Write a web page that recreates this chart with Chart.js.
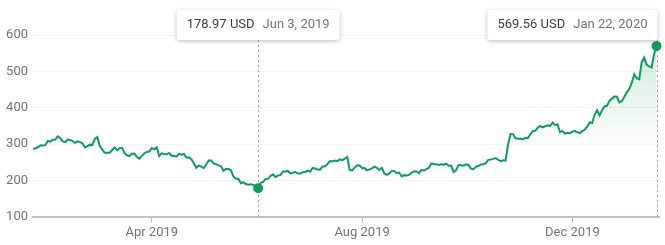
<!DOCTYPE html>
<html>
<head>
<meta charset="utf-8">
<script src="https://cdn.jsdelivr.net/npm/chart.js@4"></script>
<style>
  html, body { margin: 0; padding: 0; background: #fff; }
  #wrap { width: 665px; height: 245px; position: relative; }
</style>
</head>
<body>
<div id="wrap"><canvas id="stockChart" width="665" height="245"></canvas></div>
<script>
// closing prices, one value per trading day
const jan19 = [287.59, 288.75, 291.52, 297.04, 296.38, 297.46, 308.77, 307.02];
const feb19 = [312.21, 312.89, 321.35, 317.22, 307.51, 305.80, 312.84, 311.81, 308.17, 303.77,
               307.88, 305.62, 302.56, 291.23, 294.71, 298.77, 297.86, 314.74, 319.88];
const mar19 = [294.79, 285.36, 276.54, 276.24, 276.59, 284.14, 290.92, 283.36, 288.96, 289.96,
               275.43, 269.49, 267.47, 273.60, 274.02, 264.53, 260.42, 267.77, 274.83, 278.62, 279.86];
const apr19 = [289.18, 285.88, 291.81, 267.78, 274.96, 273.20, 272.31, 276.06, 268.42, 267.70,
               266.38, 273.36, 271.23, 273.26, 262.75, 263.90, 258.66, 247.63, 235.14, 241.47, 238.69];
const may19 = [234.01, 244.10, 255.03, 255.34, 247.06, 244.84, 241.98, 239.52, 227.01, 232.31,
               231.95, 228.33, 211.03, 205.36, 205.08, 192.73, 195.49, 190.63, 188.70, 189.86, 188.22, 185.16];
const jun19 = [178.97, 193.60, 196.59, 204.50, 204.95, 212.88, 217.10, 209.26, 213.91, 214.92,
               225.03, 224.74, 226.43, 219.62, 221.86, 223.64, 219.76, 219.27, 222.84, 223.46];
const jul19 = [227.17, 224.55, 234.90, 233.10, 230.34, 230.06, 238.92, 238.60, 245.08, 253.50,
               252.38, 254.86, 253.54, 258.18, 255.68, 260.17, 264.88, 228.82, 228.04, 235.77, 242.26, 241.61];
const aug19 = [233.85, 234.34, 228.32, 230.75, 233.42, 238.30, 235.01, 229.01, 235.00, 219.62,
               215.64, 219.94, 226.83, 225.86, 220.83, 222.15, 211.40, 215.00, 214.08, 215.59, 221.71, 225.61];
const sep19 = [225.01, 220.68, 229.58, 227.45, 231.79, 235.54, 247.10, 245.87, 245.20, 242.81,
               244.79, 243.49, 246.60, 240.62, 241.23, 223.21, 228.70, 242.56, 242.13, 240.87];
const oct19 = [244.69, 243.13, 233.03, 231.43, 237.72, 240.05, 244.53, 244.74, 247.89, 256.96,
               257.89, 259.75, 261.97, 256.95, 253.50, 255.58, 254.68, 299.68, 328.13, 327.71,
               316.22, 315.01, 314.92];
const nov19 = [313.31, 317.47, 317.22, 326.58, 335.54, 337.14, 345.09, 349.93, 346.11, 349.35,
               352.17, 349.99, 359.52, 352.22, 354.83, 333.04, 336.34, 328.92, 331.29, 329.94];
const dec19 = [334.87, 336.20, 333.03, 330.37, 335.89, 339.53, 348.84, 359.68, 358.39, 381.50,
               393.15, 378.99, 393.44, 404.04, 405.59, 419.22, 425.25, 430.94, 430.38, 414.70, 418.33];
const jan20 = [430.26, 443.01, 451.54, 469.06, 492.14, 481.34, 478.15, 524.86, 537.92, 518.50,
               513.49, 510.50, 547.20, 569.56];

const startDate = '2019-01-22';
const holidays = ['2019-02-18', '2019-04-19', '2019-05-27', '2019-07-04', '2019-09-02',
                  '2019-11-28', '2019-12-25', '2020-01-01', '2020-01-20'];
const monthTicks = ['2019-04-01', '2019-08-01', '2019-12-02'];
const tickLabels = ['Apr 2019', 'Aug 2019', 'Dec 2019'];
const yTicks = [100, 200, 300, 400, 500, 600];
const markedDays = ['2019-06-03', '2020-01-22'];
const currency = 'USD';

const closes = [].concat(jan19, feb19, mar19, apr19, may19, jun19, jul19, aug19,
                         sep19, oct19, nov19, dec19, jan20);

// build the list of trading days (skip weekends and market holidays)
const pad = n => String(n).padStart(2, '0');
const tradingDays = [];
let d = new Date(startDate + 'T12:00:00Z');
while (tradingDays.length < closes.length) {
    const iso = d.getUTCFullYear() + '-' + pad(d.getUTCMonth() + 1) + '-' + pad(d.getUTCDate());
    const wd = d.getUTCDay();
    if (wd !== 0 && wd !== 6 && !holidays.includes(iso)) tradingDays.push(iso);
    d.setUTCDate(d.getUTCDate() + 1);
}

const monthNames = ['Jan','Feb','Mar','Apr','May','Jun','Jul','Aug','Sep','Oct','Nov','Dec'];
const fmtDay = iso => {
    const [y, m, dd] = iso.split('-').map(Number);
    return monthNames[m - 1] + ' ' + dd + ', ' + y;
};

const points = closes.map((v, i) => ({ x: i, y: v }));
const markIdx = markedDays.map(day => tradingDays.indexOf(day));
const tickIdx = monthTicks.map(day => tradingDays.indexOf(day));

const GREEN = 'rgb(15,157,88)';
const GRAY_TEXT = '#70757a';
const FONT = 'Roboto, Arial, sans-serif';

// dotted guide lines and little value boxes for the marked days
const markerPlugin = {
    id: 'markers',
    afterDatasetsDraw(chart) {
        const ctx = chart.ctx;
        const area = chart.chartArea;
        const meta = chart.getDatasetMeta(0);
        ctx.save();
        ctx.font = '13px ' + FONT;
        markIdx.forEach(i => {
            const el = meta.data[i];
            const valTxt = closes[i].toFixed(2) + ' ' + currency;
            const dateTxt = fmtDay(tradingDays[i]);
            const w1 = ctx.measureText(valTxt).width;
            const w2 = ctx.measureText(dateTxt).width;
            const boxW = w1 + w2 + 28;
            const boxH = 30;
            let left = el.x - boxW / 2;
            if (left + boxW > area.right - 3) left = el.x - boxW + 1;
            const top = 10;

            // dotted guide
            ctx.strokeStyle = '#9aa0a6';
            ctx.lineWidth = 1;
            ctx.setLineDash([2, 3]);
            ctx.beginPath();
            ctx.moveTo(Math.round(el.x) + 0.5, top + boxH);
            ctx.lineTo(Math.round(el.x) + 0.5, area.bottom);
            ctx.stroke();
            ctx.setLineDash([]);

            // box with soft shadow
            ctx.save();
            ctx.shadowColor = 'rgba(0,0,0,0.28)';
            ctx.shadowBlur = 4;
            ctx.shadowOffsetY = 1;
            ctx.fillStyle = '#fff';
            ctx.beginPath();
            ctx.roundRect(left, top, boxW, boxH, 3);
            ctx.fill();
            ctx.restore();

            ctx.textBaseline = 'middle';
            ctx.textAlign = 'left';
            ctx.fillStyle = '#3c4043';
            ctx.fillText(valTxt, left + 10, top + boxH / 2);
            ctx.fillStyle = GRAY_TEXT;
            ctx.fillText(dateTxt, left + 18 + w1, top + boxH / 2);

            // the dot
            ctx.fillStyle = GREEN;
            ctx.beginPath();
            ctx.arc(el.x, el.y, 5, 0, Math.PI * 2);
            ctx.fill();
        });
        ctx.restore();
    }
};

new Chart(document.getElementById('stockChart'), {
    type: 'line',
    data: {
        datasets: [{
            data: points,
            borderColor: GREEN,
            borderWidth: 2,
            pointRadius: 0,
            tension: 0,
            fill: 'start',
            backgroundColor: (c) => {
                const area = c.chart.chartArea;
                if (!area) return 'rgba(15,157,88,0)';
                const g = c.chart.ctx.createLinearGradient(0, area.top, 0, area.top + 115);
                g.addColorStop(0, 'rgba(15,157,88,0.22)');
                g.addColorStop(1, 'rgba(15,157,88,0)');
                return g;
            },
        }]
    },
    options: {
        responsive: false,
        animation: false,
        devicePixelRatio: 1,
        layout: { padding: { top: 35, right: 6, left: 0, bottom: 0 } },
        plugins: { legend: { display: false }, tooltip: { enabled: false } },
        scales: {
            x: {
                type: 'linear',
                min: 0,
                max: closes.length,
                afterBuildTicks: (scale) => { scale.ticks = tickIdx.map(v => ({ value: v })); },
                afterFit: (scale) => { scale.height = 28; },
                grid: { drawOnChartArea: false, drawTicks: true, tickLength: 6, tickColor: '#bdc1c6' },
                border: { color: '#bdc1c6', width: 2 },
                ticks: {
                    autoSkip: false,
                    maxRotation: 0,
                    padding: 2,
                    color: GRAY_TEXT,
                    font: { family: FONT, size: 13 },
                    callback: (v) => tickLabels[tickIdx.indexOf(v)] || '',
                },
            },
            y: {
                min: 100,
                max: 600,
                afterBuildTicks: (scale) => { scale.ticks = yTicks.map(v => ({ value: v })); },
                afterFit: (scale) => { scale.width = 33; },
                grid: { color: '#f1f3f4', drawTicks: false },
                border: { display: false },
                ticks: {
                    padding: 5,
                    color: GRAY_TEXT,
                    font: { family: FONT, size: 13 },
                },
            },
        },
    },
    plugins: [markerPlugin],
});
</script>
</body>
</html>
